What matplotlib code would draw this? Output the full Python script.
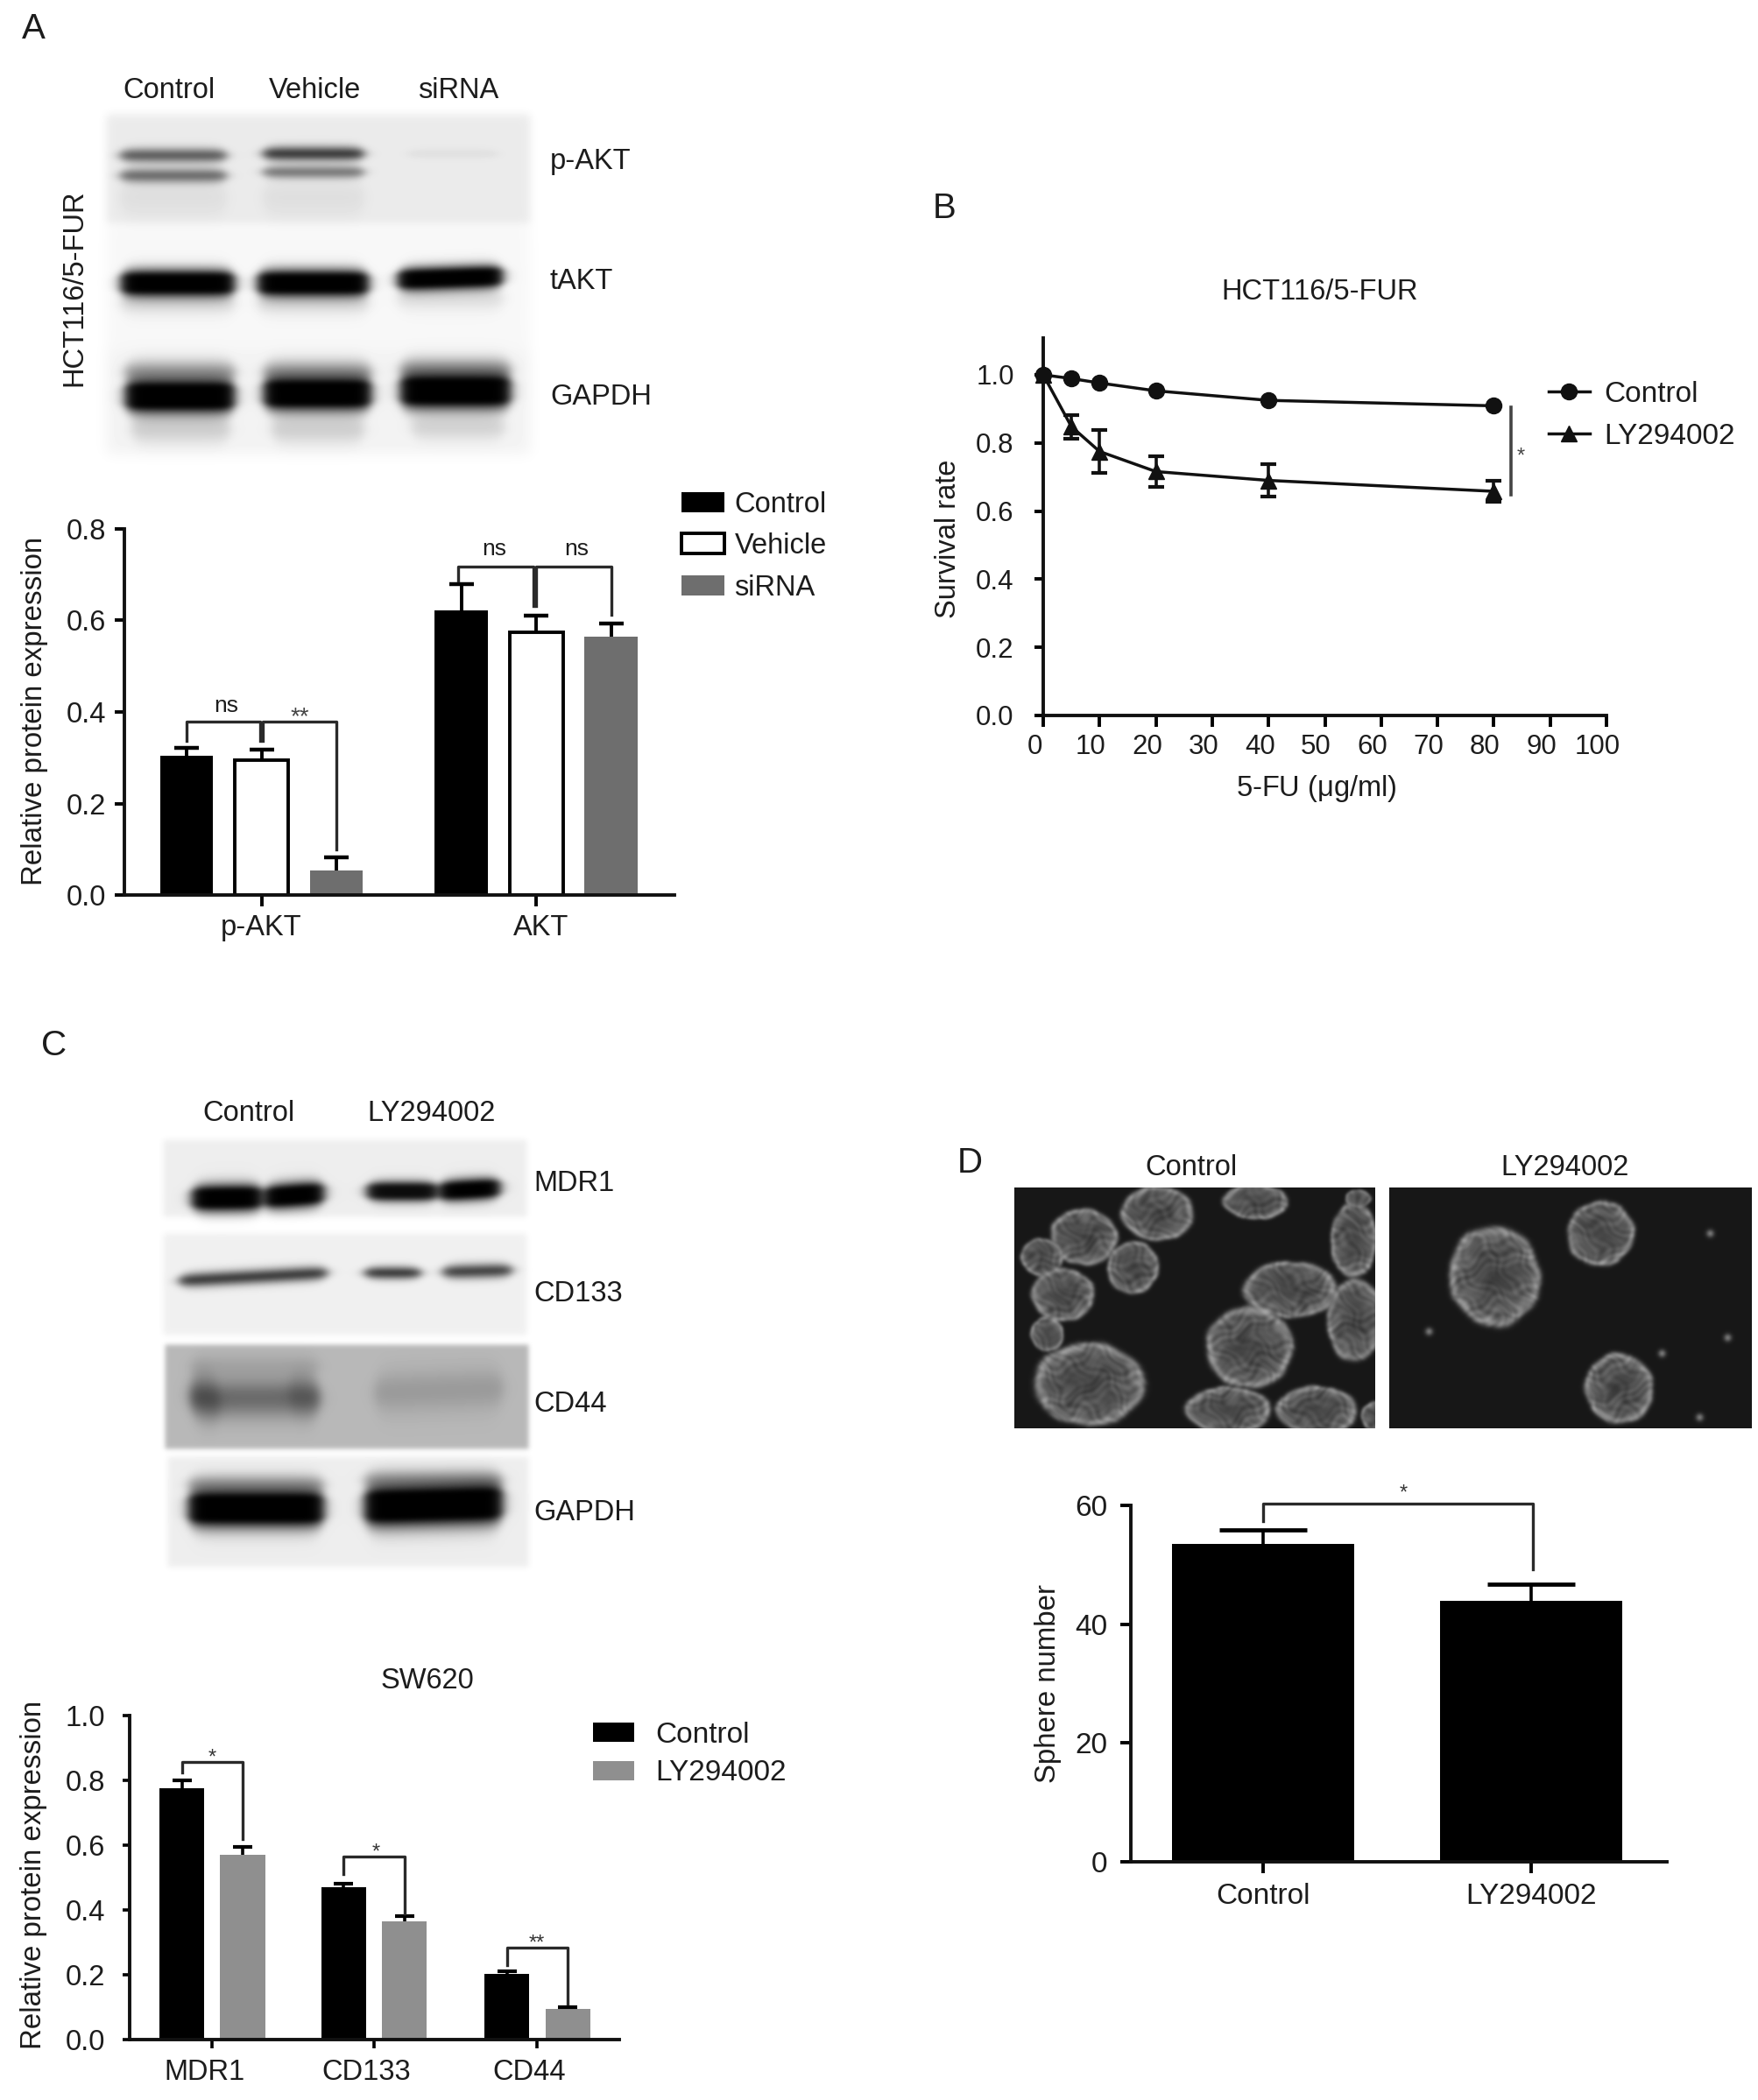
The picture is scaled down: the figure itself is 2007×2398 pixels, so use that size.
import matplotlib
matplotlib.use("Agg")
import matplotlib.pyplot as plt
import matplotlib.transforms as mtrans
import numpy as np
from matplotlib.patches import Patch

plt.rcParams['font.family'] = ['Liberation Sans', 'DejaVu Sans']
plt.rcParams['mathtext.fontset'] = 'custom'
plt.rcParams['mathtext.rm'] = 'Liberation Sans'

W, H = 2008, 2398
TEXT = '#1c1c1c'
FS = 23.5

# Panel A bars
a_groups = ['p-AKT', 'AKT']
a_series = ['Control', 'Vehicle', 'siRNA']
a_control = [0.304, 0.622]
a_vehicle = [0.295, 0.574]
a_sirna = [0.054, 0.564]
a_control_err = [0.018, 0.058]
a_vehicle_err = [0.023, 0.036]
a_sirna_err = [0.028, 0.029]

# Panel B survival curve
b_dose = [0, 5, 10, 20, 40, 80]
b_control = [1.0, 0.989, 0.976, 0.953, 0.925, 0.909]
b_ly = [1.0, 0.848, 0.775, 0.716, 0.69, 0.658]
b_ly_err = [0.0, 0.035, 0.063, 0.046, 0.048, 0.032]

# Panel C bars
c_groups = ['MDR1', 'CD133', 'CD44']
c_control = [0.775, 0.469, 0.203]
c_ly = [0.569, 0.366, 0.095]
c_control_err = [0.025, 0.013, 0.009]
c_ly_err = [0.026, 0.016, 0.004]

# Panel D bars
d_groups = ['Control', 'LY294002']
d_values = [53.5, 44.0]
d_err = [2.3, 2.7]

# Blots: panels are (x0, x1, y0, y1, grey level, edge softness),
# bands are (x0, x1, y left, y right, half thickness, darkness)
blot_panels = [
    (121, 605, 130, 254, 0.08, 5), (121, 605, 254, 400, 0.03, 9), (121, 605, 400, 518, 0.05, 9),
    (186, 601, 1301, 1389, 0.07, 3), (186, 601, 1408, 1524, 0.06, 3),
    (188, 603, 1535, 1654, 0.28, 1), (191, 603, 1663, 1789, 0.07, 3),
]
blot_bands = [
    (137, 258, 177, 177, 8, 0.62), (137, 258, 200, 200, 8, 0.55),
    (300, 415, 175, 175, 8, 0.78), (300, 415, 196, 196, 7, 0.5),
    (465, 568, 175, 175, 5, 0.05), (137, 258, 225, 225, 22, 0.05), (300, 415, 225, 225, 22, 0.05),
    (137, 268, 323, 323, 14, 1.0), (293, 421, 323, 323, 14, 1.0), (453, 574, 319, 315, 12, 1.0),
    (137, 268, 345, 345, 14, 0.12), (293, 421, 345, 345, 14, 0.12), (453, 574, 340, 340, 14, 0.1),
    (142, 268, 452, 452, 18, 1.0), (300, 424, 449, 449, 18, 1.0), (456, 583, 446, 446, 19, 1.0),
    (142, 268, 425, 425, 14, 0.35), (300, 424, 425, 425, 14, 0.35), (456, 583, 422, 422, 14, 0.35),
    (150, 262, 490, 490, 16, 0.14), (310, 415, 490, 490, 16, 0.14), (470, 575, 488, 488, 14, 0.12),
    (218, 300, 1368, 1367, 14, 1.0), (300, 370, 1367, 1362, 13, 1.0),
    (418, 500, 1360, 1360, 10, 0.95), (500, 571, 1360, 1356, 11, 1.0),
    (204, 373, 1462, 1453, 8, 0.78), (416, 480, 1453, 1453, 7, 0.8), (505, 584, 1452, 1450, 8, 0.75),
    (217, 364, 1596, 1596, 22, 0.42), (217, 250, 1590, 1600, 26, 0.3), (330, 364, 1590, 1595, 24, 0.2),
    (427, 574, 1590, 1585, 24, 0.16), (217, 364, 1560, 1560, 14, 0.1),
    (214, 370, 1722, 1722, 20, 1.0), (415, 574, 1720, 1716, 22, 1.0),
    (214, 370, 1695, 1695, 12, 0.3), (415, 574, 1690, 1690, 12, 0.3),
]

# Sphere photos: box (x0, x1, y0, y1) and spheres (x, y, rx, ry)
control_box = (1158, 1570, 1356, 1631)
ly_box = (1586, 2000, 1356, 1631)
control_spheres = [
    (1321, 1385, 41, 32), (1433, 1372, 38, 20), (1237, 1412, 38, 33), (1189, 1435, 24, 22),
    (1293, 1447, 30, 30), (1213, 1478, 37, 30), (1195, 1523, 19, 20), (1243, 1580, 65, 47),
    (1473, 1472, 53, 33), (1426, 1538, 49, 48), (1545, 1415, 27, 43), (1547, 1507, 33, 47),
    (1402, 1610, 50, 27), (1503, 1610, 47, 28), (1571, 1617, 18, 17), (1550, 1368, 15, 10),
]
ly_spheres = [(1706, 1457, 53, 57), (1827, 1408, 38, 38), (1848, 1585, 40, 40)]
specks = [(1952, 1408), (1631, 1520), (1897, 1545), (1972, 1527), (1940, 1618)]

# Build the picture layer
yy, xx = np.mgrid[0:H, 0:W].astype(float)
canvas = np.ones((H, W))


def edge_x(x0, x1, soft):
    return 0.5 * (np.tanh((xx - x0) / soft) - np.tanh((xx - x1) / soft))


def blur(img, sigma):
    fy_ = np.fft.fftfreq(img.shape[0])[:, None]
    fx_ = np.fft.rfftfreq(img.shape[1])[None, :]
    kernel = np.exp(-2 * (np.pi * sigma) ** 2 * (fx_ ** 2 + fy_ ** 2))
    return np.fft.irfft2(np.fft.rfft2(img) * kernel, s=img.shape)


for x0, x1, y0, y1, grey, soft in blot_panels:
    box = edge_x(x0, x1, soft) * 0.5 * (np.tanh((yy - y0) / soft) - np.tanh((yy - y1) / soft))
    canvas *= 1 - grey * box

for x0, x1, yl, yr, half, dark in blot_bands:
    yc = yl + (yr - yl) * (xx - x0) / (x1 - x0)
    ends = edge_x(x0, x1, 12)
    thick = half * (0.45 + 0.55 * ends)
    prof = np.exp(-((yy - yc) / thick) ** 2)
    prof = np.clip(prof * 1.6, 0, 1) if dark > 0.9 else prof
    canvas *= 1 - dark * prof * edge_x(x0, x1, 7)

canvas = blur(np.clip(canvas, 0, 1), 2.5)

# warped coordinates keep the sphere texture from looking like a lattice
wx = xx + 7 * np.sin(yy * 0.083) + 4 * np.sin(yy * 0.191 + xx * 0.07)
wy = yy + 7 * np.sin(xx * 0.071) + 4 * np.sin(xx * 0.173 - yy * 0.05)
texture = (0.5 * np.sin(wx * 0.29 + wy * 0.13) * np.sin(wy * 0.37 - wx * 0.11)
           + 0.3 * np.sin(wx * 0.53 - wy * 0.41) + 0.3 * np.sin(wy * 0.61 + wx * 0.23)
           + 0.3 * np.sin(wx * 0.117 + wy * 0.149))


def sphere_photo(box, spheres):
    x0, x1, y0, y1 = box
    inside = (xx >= x0) & (xx < x1) & (yy >= y0) & (yy < y1)
    photo = np.full((H, W), 0.09)
    for cx, cy, rx, ry in spheres:
        ang = np.arctan2(yy - cy, xx - cx)
        r = np.sqrt(((xx - cx) / rx) ** 2 + ((yy - cy) / ry) ** 2)
        r = r * (1 + 0.018 * np.sin(5 * ang + cx) + 0.012 * np.sin(9 * ang + cy) + 0.02 * np.sin(2 * ang + cx + cy))
        tone = 0.25 + 0.15 * r + 0.16 * np.exp(-((r - 0.92) / 0.08) ** 2) + 0.10 * texture * (0.6 + 0.6 * r)
        mask = 0.5 * (1 - np.tanh((r - 1.0) / 0.05))
        photo = photo * (1 - mask) + tone * mask
    if box is ly_box:
        for cx, cy in specks:
            photo += 0.45 * np.exp(-((xx - cx) ** 2 + (yy - cy) ** 2) / 16)
    photo = blur(np.clip(photo, 0, 1), 1.4)
    canvas[inside] = photo[inside]


sphere_photo(control_box, control_spheres)
sphere_photo(ly_box, ly_spheres)

fig = plt.figure(figsize=(W / 100, H / 100), dpi=100, facecolor='white')
bg = fig.add_axes([0, 0, 1, 1], zorder=-1)
bg.imshow(np.clip(canvas, 0, 1), cmap='gray', vmin=0, vmax=1, interpolation='bilinear', aspect='auto')
bg.axis('off')


def fx(x):
    return x / W


def fy(y):
    return 1 - y / H


def put(x, y, s, ha='center', va='center', size=FS, color=TEXT, rotation=0):
    fig.text(fx(x), fy(y + 3), s, ha=ha, va=va, fontsize=size, color=color, rotation=rotation)


def px_axes(left, top, right, bottom, lw=2.8):
    ax = fig.add_axes([fx(left), fy(bottom), (right - left) / W, (bottom - top) / H])
    ax.patch.set_alpha(0)
    for side in ['top', 'right']:
        ax.spines[side].set_visible(False)
    for side in ['left', 'bottom']:
        ax.spines[side].set_linewidth(lw)
        ax.spines[side].set_color('#111111')
    return ax


def shift_xlabels(ax, dx, which=None):
    off = mtrans.ScaledTranslation(dx / 100, 0, fig.dpi_scale_trans)
    labels = ax.get_xticklabels()
    for lab in (labels if which is None else [labels[which]]):
        lab.set_transform(lab.get_transform() + off)


def upper_err(ax, xs, vals, errs, lw, cap, capthick):
    # error bar above the bar only, no cap on the bar top
    cont = ax.errorbar(xs, vals, yerr=[[0] * len(errs), errs], fmt='none', ecolor='black', elinewidth=lw,
                       capsize=cap, capthick=capthick, zorder=3)
    cont[1][0].set_visible(False)


def bracket(ax, x0, x1, top, y0, y1, lw=2.4):
    ax.plot([x0, x0, x1, x1], [y0, top, top, y1], color='#2a2a2a', lw=lw, clip_on=False,
            solid_joinstyle='round', zorder=5)


# Image labels
put(38, 30, 'A', size=29)
put(1078, 235, 'B', size=29)
put(62, 1191, 'C', size=29)
put(1107, 1325, 'D', size=29)
for x, s in zip([193, 359, 523], ['Control', 'Vehicle', 'siRNA']):
    put(x, 100, s)
for y, s in zip([181, 319, 450], ['p-AKT', 'tAKT', 'GAPDH']):
    put(628, y, s, ha='left')
put(85, 326, 'HCT116/5-FUR', rotation=90)
for x, s in zip([284, 493], ['Control', 'LY294002']):
    put(x, 1268, s)
for y, s in zip([1349, 1475, 1600, 1724], ['MDR1', 'CD133', 'CD44', 'GAPDH']):
    put(609, y, s, ha='left')
for x, s in zip([1360, 1787], ['Control', 'LY294002']):
    put(x, 1331, s)

# Panel A chart
ax = px_axes(142, 604, 770, 1022)
unit = 85.5
ax.set_xlim((142 - 213) / unit, (770 - 213) / unit)
ax.set_ylim(0, 0.8)
starts = np.array([0, 3.67])
styles = [dict(color='black'), dict(color='white', edgecolor='black', linewidth=2.8), dict(color='#6e6e6e')]
for i, (vals, errs, st) in enumerate(zip([a_control, a_vehicle, a_sirna],
                                         [a_control_err, a_vehicle_err, a_sirna_err], styles)):
    xs = starts + i
    ax.bar(xs, vals, 0.71, zorder=2, **st)
    upper_err(ax, xs, vals, errs, 2.8, 10, 3.2)
ax.set_xticks(starts + 1, a_groups)
ax.set_yticks([0, 0.2, 0.4, 0.6, 0.8], ['0.0', '0.2', '0.4', '0.6', '0.8'])
ax.tick_params(axis='y', length=8, width=2.8, pad=7, labelsize=FS, labelcolor=TEXT)
ax.tick_params(axis='x', length=9, width=2.8, pad=7, labelsize=FS, labelcolor=TEXT)
shift_xlabels(ax, 5, which=1)
ax.set_ylabel('Relative protein expression', fontsize=23.8, color=TEXT, va='center')
ax.yaxis.set_label_coords(fx(40), fy(812), transform=fig.transFigure)
bracket(ax, 0, 0.98, 0.379, 0.337, 0.337)
bracket(ax, 1.02, 2, 0.379, 0.337, 0.10)
bracket(ax, 3.62, 4.63, 0.718, 0.687, 0.632)
bracket(ax, 4.67, 5.67, 0.718, 0.632, 0.612)
put(258, 803, 'ns', size=19)
put(342, 816, '**', size=20, color='#444444')
put(564, 624, 'ns', size=19)
put(658, 624, 'ns', size=19)
handles = [Patch(facecolor='black', label=a_series[0]),
           Patch(facecolor='white', edgecolor='black', linewidth=2.8, label=a_series[1]),
           Patch(facecolor='#6e6e6e', label=a_series[2])]
fig.legend(handles=handles, loc='upper left', bbox_to_anchor=(fx(778), fy(561)), frameon=False,
           fontsize=FS, borderpad=0, borderaxespad=0, handlelength=1.5, handleheight=0.7,
           handletextpad=0.35, labelspacing=0.5, labelcolor=TEXT)

# Panel B chart
ax = px_axes(1191, 386, 1834, 817)
ax.set_xlim(0, 100)
ax.set_ylim(0, (817 - 386) / 389)
l1, = ax.plot(b_dose, b_control, '-o', color='#111111', lw=2.5, ms=13, clip_on=False, zorder=4, label='Control')
l2, = ax.plot(b_dose, b_ly, '-^', color='#111111', lw=2.5, ms=13, clip_on=False, zorder=4, label='LY294002')
ax.errorbar(b_dose, b_ly, yerr=b_ly_err, fmt='none', ecolor='#111111', elinewidth=2.6, capsize=6.5, capthick=3,
            zorder=3)
ax.set_xticks(range(0, 101, 10))
ax.set_yticks([0, 0.2, 0.4, 0.6, 0.8, 1.0], ['0.0', '0.2', '0.4', '0.6', '0.8', '1.0'])
ax.tick_params(axis='y', length=7, width=2.8, pad=17, labelsize=22.5, labelcolor=TEXT)
ax.tick_params(axis='x', length=9, width=2.8, pad=6, labelsize=22.5, labelcolor=TEXT)
shift_xlabels(ax, -10)
ax.set_xlabel('5-FU ($\\mathregular{\\mu}$g/ml)', fontsize=FS, color=TEXT, va='center')
ax.xaxis.set_label_coords(fx(1503), fy(901), transform=fig.transFigure)
ax.set_ylabel('Survival rate', fontsize=FS, color=TEXT, va='center')
ax.yaxis.set_label_coords(fx(1083), fy(615), transform=fig.transFigure)
ax.plot([83, 83], [0.906, 0.649], color='#444444', lw=2.6, clip_on=False)
put(1736, 519, '*', size=17, color='#444444')
put(1507, 331, 'HCT116/5-FUR')
fig.legend(handles=[l1, l2], loc='upper left', bbox_to_anchor=(fx(1768), fy(435)), frameon=False,
           fontsize=24, borderpad=0, borderaxespad=0, handlelength=1.4, handletextpad=0.5,
           labelspacing=0.5, numpoints=1, labelcolor=TEXT)

# Panel C chart
ax = px_axes(148, 1959, 707, 2329)
unit = 69.5
ax.set_xlim((148 - 207.5) / unit, (707 - 207.5) / unit)
ax.set_ylim(0, 1.0)
starts = np.array([0, 2.66, 5.34])
for i, (vals, errs, col) in enumerate(zip([c_control, c_ly], [c_control_err, c_ly_err], ['black', '#8f8f8f'])):
    xs = starts + i
    ax.bar(xs, vals, 0.735, color=col, zorder=2)
    upper_err(ax, xs, vals, errs, 2.6, 8, 3)
ax.set_xticks(starts + 0.5, c_groups)
ax.set_yticks([0, 0.2, 0.4, 0.6, 0.8, 1.0], ['0.0', '0.2', '0.4', '0.6', '0.8', '1.0'])
ax.tick_params(axis='y', length=6, width=2.6, pad=14, labelsize=FS, labelcolor=TEXT)
ax.tick_params(axis='x', length=7, width=2.6, pad=9, labelsize=FS, labelcolor=TEXT)
shift_xlabels(ax, -9)
ax.set_ylabel('Relative protein expression', fontsize=23.8, color=TEXT, va='center')
ax.yaxis.set_label_coords(fx(39), fy(2141), transform=fig.transFigure)
bracket(ax, 0, 1, 0.856, 0.825, 0.62)
bracket(ax, 2.66, 3.66, 0.566, 0.511, 0.389)
bracket(ax, 5.34, 6.34, 0.284, 0.23, 0.112)
put(242, 2005, '*', size=17, color='#333333')
put(429, 2113, '*', size=17, color='#333333')
put(613, 2217, '**', size=17, color='#333333')
put(488, 1917, 'SW620')
handles = [Patch(facecolor='black', label='Control'), Patch(facecolor='#8f8f8f', label='LY294002')]
fig.legend(handles=handles, loc='upper left', bbox_to_anchor=(fx(677), fy(1966)), frameon=False,
           fontsize=24, borderpad=0, borderaxespad=0, handlelength=1.4, handleheight=0.65,
           handletextpad=0.75, labelspacing=0.37, labelcolor=TEXT)

# Panel D chart
ax = px_axes(1291, 1719, 1903, 2126)
unit = 306
ax.set_xlim((1291 - 1442) / unit, (1903 - 1442) / unit)
ax.set_ylim(0, 60)
ax.bar([0, 1], d_values, 0.683, color='black', zorder=2)
upper_err(ax, [0, 1], d_values, d_err, 2.6, 36, 3.4)
ax.set_xticks([0, 1], d_groups)
ax.set_yticks([0, 20, 40, 60])
ax.tick_params(axis='y', length=9, width=2.8, pad=10, labelsize=24, labelcolor=TEXT)
ax.tick_params(axis='x', length=9, width=2.8, pad=8, labelsize=24, labelcolor=TEXT)
ax.set_ylabel('Sphere number', fontsize=23.8, color=TEXT, va='center')
ax.yaxis.set_label_coords(fx(1197), fy(1922), transform=fig.transFigure)
bracket(ax, 0, 1.005, 60.3, 57.3, 49.2)
put(1602, 1703, '*', size=17, color='#333333')

fig.savefig('out.png', dpi=100)
